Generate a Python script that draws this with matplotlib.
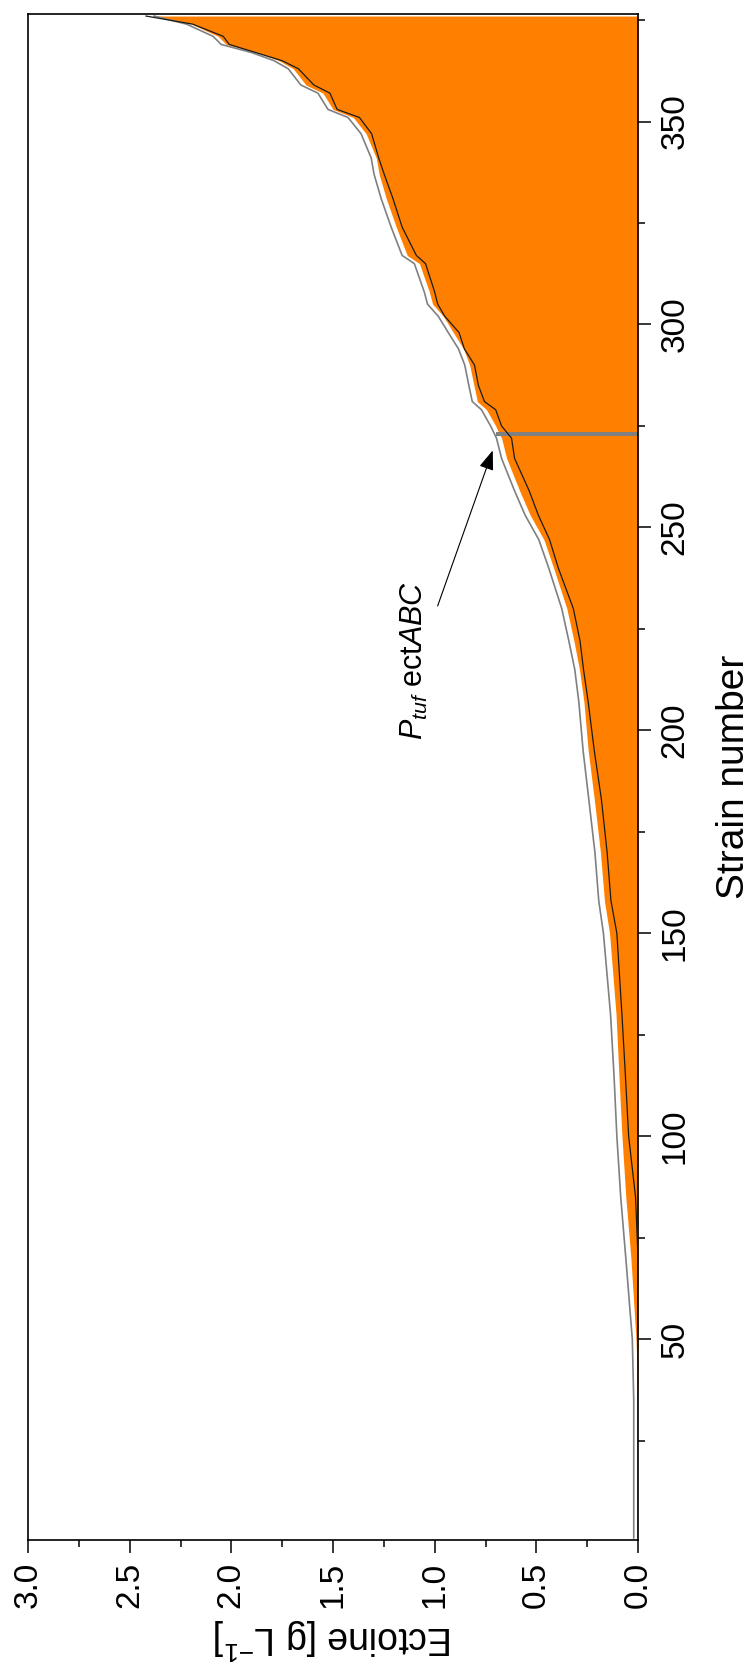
import numpy as np
import matplotlib
matplotlib.use("Agg")
import matplotlib.pyplot as plt
from matplotlib.ticker import MultipleLocator

plt.rcParams["font.family"] = ["Liberation Sans", "DejaVu Sans"]
plt.rcParams["mathtext.fontset"] = "custom"
plt.rcParams["mathtext.rm"] = "Liberation Sans"
plt.rcParams["mathtext.it"] = "Liberation Sans:italic"

# ---- values (strain rank -> ectoine, g/L) ----
STRAIN = [1, 20, 35, 50, 70, 85, 100, 115, 130, 150, 158, 170, 183, 195, 207,
          215, 222, 230, 240, 247, 253, 259, 267, 272, 275, 279, 281, 285, 290,
          294, 298, 302, 305, 308, 315, 317, 324, 331, 337, 341, 347, 351, 353,
          357, 359, 363, 365, 367, 369, 371, 374, 376]

# orange area (bar tops)
ECTOINE = [0.0, 0.0, 0.0, 0.01, 0.035, 0.06, 0.079, 0.094, 0.108, 0.140, 0.165,
           0.185, 0.215, 0.245, 0.266, 0.288, 0.315, 0.350, 0.415, 0.463, 0.530,
           0.582, 0.646, 0.671, 0.700, 0.745, 0.790, 0.807, 0.828, 0.858, 0.908,
           0.957, 1.010, 1.026, 1.075, 1.135, 1.189, 1.238, 1.273, 1.287, 1.337,
           1.400, 1.500, 1.549, 1.633, 1.695, 1.765, 1.875, 2.025, 2.065, 2.195,
           2.38]

# grey line
GREY_LINE = [0.021, 0.021, 0.021, 0.028, 0.060, 0.085, 0.104, 0.118, 0.135,
             0.170, 0.193, 0.212, 0.242, 0.270, 0.291, 0.311, 0.340, 0.375,
             0.439, 0.488, 0.555, 0.607, 0.671, 0.696, 0.725, 0.770, 0.815,
             0.832, 0.852, 0.883, 0.933, 0.982, 1.035, 1.051, 1.100, 1.160,
             1.214, 1.263, 1.298, 1.312, 1.362, 1.426, 1.525, 1.574, 1.658,
             1.720, 1.790, 1.900, 2.050, 2.090, 2.220, 2.38]

# black line
BLACK_LINE = [0.0, 0.0, 0.0, 0.0, 0.0, 0.012, 0.046, 0.062, 0.079, 0.104, 0.133,
              0.152, 0.180, 0.215, 0.245, 0.268, 0.285, 0.318, 0.392, 0.435,
              0.490, 0.535, 0.607, 0.622, 0.671, 0.700, 0.755, 0.785, 0.804,
              0.854, 0.880, 0.950, 0.985, 1.000, 1.045, 1.090, 1.160, 1.205,
              1.248, 1.275, 1.310, 1.370, 1.480, 1.515, 1.594, 1.670, 1.750,
              1.880, 2.010, 2.040, 2.190, 2.42]

HIGHLIGHT_STRAIN = 273
HIGHLIGHT_VALUE = 0.70
HIGHLIGHT_LABEL = r"$\mathit{P}_{\mathit{tuf}}$ ect$\mathit{ABC}$"

X_TICKS = [3.0, 2.5, 2.0, 1.5, 1.0, 0.5, 0.0]
Y_TICKS = [50, 100, 150, 200, 250, 300, 350]

fig = plt.figure(figsize=(7.56, 16.63), dpi=100)
ax = fig.add_axes([28 / 756, 123 / 1663, 610 / 756, 1526 / 1663])

ax.fill_betweenx(STRAIN, 0, ECTOINE, color="#FF8000", lw=0, zorder=1)
ax.plot(GREY_LINE, STRAIN, color="#808080", lw=1.2, zorder=3)
ax.plot(BLACK_LINE, STRAIN, color="#1a1a1a", lw=0.9, zorder=3)
ax.barh(HIGHLIGHT_STRAIN, HIGHLIGHT_VALUE, height=1.0, color="#808080",
        lw=0, zorder=2)

ax.annotate("", xy=(0.71, 269.6), xytext=(0.99, 230),
            arrowprops=dict(arrowstyle="-|>,head_length=0.8,head_width=0.3",
                            color="black", lw=0.8, mutation_scale=15),
            zorder=4)
ax.text(1.10, 217.2, HIGHLIGHT_LABEL, rotation=90, ha="center", va="center",
        fontsize=22)

ax.set_xlim(3.0, 0.0)
ax.set_ylim(0.5, 376.5)
ax.set_xticks(X_TICKS)
ax.set_xticklabels([f"{v:.1f}" for v in X_TICKS], rotation=90)
ax.set_yticks(Y_TICKS)
ax.set_yticklabels([str(v) for v in Y_TICKS], rotation=90, va="center")
ax.xaxis.set_minor_locator(MultipleLocator(0.25))
ax.yaxis.set_minor_locator(MultipleLocator(25))
ax.yaxis.tick_right()
ax.yaxis.set_label_position("right")

ax.tick_params(which="major", direction="out", length=9, width=1.1,
               labelsize=24, pad=6.5)
ax.tick_params(which="minor", direction="out", length=5, width=1.1)
for sp in ax.spines.values():
    sp.set_linewidth(1.2)

ax.set_xlabel(r"Ectoine [g L$^{-1}$]", fontsize=27, rotation=180, labelpad=6)
ax.set_ylabel("Strain number", fontsize=28, rotation=90, labelpad=18)

fig.savefig("out.png", dpi=100)
